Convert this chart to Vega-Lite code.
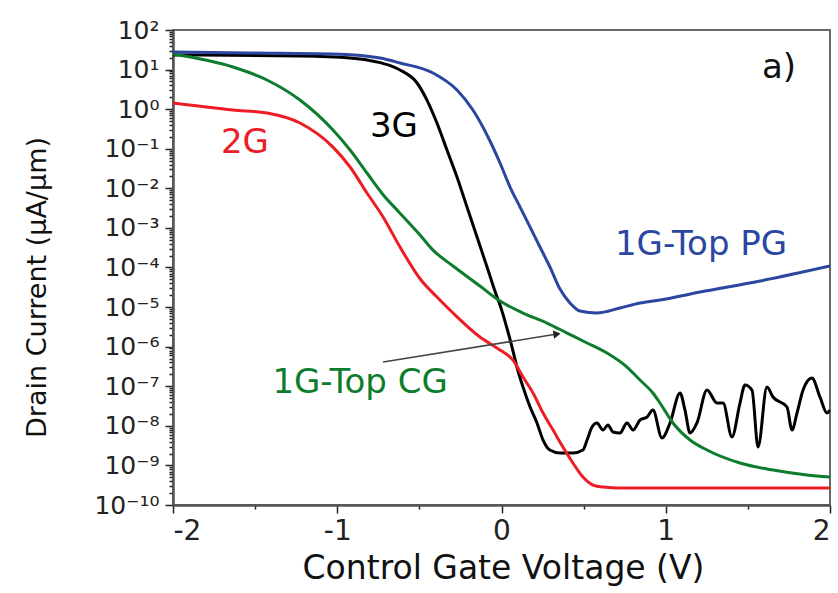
{
  "$schema": "https://vega.github.io/schema/vega-lite/v6.json",
  "autosize": "none",
  "padding": {"left": 173, "top": 30, "right": 8, "bottom": 88},
  "width": 657,
  "height": 475,
  "background": "white",
  "config": {
    "view": {"stroke": "#666", "strokeWidth": 2},
    "axis": {
      "grid": false,
      "domainColor": "#555",
      "domainWidth": 2.5,
      "tickColor": "#222",
      "labelFont": "DejaVu Sans",
      "labelColor": "#222",
      "titleFont": "DejaVu Sans",
      "titleFontWeight": "normal",
      "titleColor": "#111",
      "labelOverlap": false
    }
  },
  "datasets": {
    "curves": [
      {"s": "3G", "v": -2.0, "i": 23.4}, {"s": "3G", "v": -1.227, "i": 22.0}, {"s": "3G", "v": -0.922, "i": 19.6}, {"s": "3G", "v": -0.758, "i": 15.6}, {"s": "3G", "v": -0.685, "i": 12.9}, {"s": "3G", "v": -0.618, "i": 9.75}, {"s": "3G", "v": -0.514, "i": 4.58}, {"s": "3G", "v": -0.454, "i": 1.7}, {"s": "3G", "v": -0.393, "i": 0.447}, {"s": "3G", "v": -0.332, "i": 9.29e-2}, {"s": "3G", "v": -0.271, "i": 1.93e-2}, {"s": "3G", "v": -0.21, "i": 3.37e-3}, {"s": "3G", "v": -0.149, "i": 5.89e-4}, {"s": "3G", "v": -0.088, "i": 1.03e-4}, {"s": "3G", "v": -0.027, "i": 1.79e-5}, {"s": "3G", "v": -0.009, "i": 1.13e-5}, {"s": "3G", "v": 0.033, "i": 2.96e-6}, {"s": "3G", "v": 0.064, "i": 9.79e-7}, {"s": "3G", "v": 0.094, "i": 3.05e-7}, {"s": "3G", "v": 0.131, "i": 9.55e-8}, {"s": "3G", "v": 0.174, "i": 2.99e-8}, {"s": "3G", "v": 0.216, "i": 1.18e-8}, {"s": "3G", "v": 0.253, "i": 4.38e-9}, {"s": "3G", "v": 0.295, "i": 2.45e-9}, {"s": "3G", "v": 0.356, "i": 2.06e-9}, {"s": "3G", "v": 0.435, "i": 2.06e-9}, {"s": "3G", "v": 0.496, "i": 2.45e-9}, {"s": "3G", "v": 0.521, "i": 4.38e-9}, {"s": "3G", "v": 0.551, "i": 9.33e-9}, {"s": "3G", "v": 0.581, "i": 1.18e-8}, {"s": "3G", "v": 0.618, "i": 7.83e-9}, {"s": "3G", "v": 0.648, "i": 1.05e-8}, {"s": "3G", "v": 0.679, "i": 6.97e-9}, {"s": "3G", "v": 0.721, "i": 6.58e-9}, {"s": "3G", "v": 0.764, "i": 1.18e-8}, {"s": "3G", "v": 0.801, "i": 7.83e-9}, {"s": "3G", "v": 0.843, "i": 1.4e-8}, {"s": "3G", "v": 0.886, "i": 1.67e-8}, {"s": "3G", "v": 0.922, "i": 2.51e-8}, {"s": "3G", "v": 0.977, "i": 4.92e-9}, {"s": "3G", "v": 1.026, "i": 1.18e-8}, {"s": "3G", "v": 1.087, "i": 6.75e-8}, {"s": "3G", "v": 1.117, "i": 2.51e-8}, {"s": "3G", "v": 1.148, "i": 6.58e-9}, {"s": "3G", "v": 1.19, "i": 1.18e-8}, {"s": "3G", "v": 1.251, "i": 8.02e-8}, {"s": "3G", "v": 1.312, "i": 3.77e-8}, {"s": "3G", "v": 1.349, "i": 3.77e-8}, {"s": "3G", "v": 1.403, "i": 5.21e-9}, {"s": "3G", "v": 1.452, "i": 3.77e-8}, {"s": "3G", "v": 1.482, "i": 1.07e-7}, {"s": "3G", "v": 1.525, "i": 8.02e-8}, {"s": "3G", "v": 1.562, "i": 2.91e-9}, {"s": "3G", "v": 1.616, "i": 9.55e-8}, {"s": "3G", "v": 1.653, "i": 5.35e-8}, {"s": "3G", "v": 1.738, "i": 2.99e-8}, {"s": "3G", "v": 1.769, "i": 7.83e-9}, {"s": "3G", "v": 1.799, "i": 2.1e-8}, {"s": "3G", "v": 1.836, "i": 8.02e-8}, {"s": "3G", "v": 1.89, "i": 1.61e-7}, {"s": "3G", "v": 1.939, "i": 5.35e-8}, {"s": "3G", "v": 1.982, "i": 2.1e-8}, {"s": "3G", "v": 2.0, "i": 2.51e-8},

      {"s": "1G-Top CG", "v": -2.0, "i": 24.8}, {"s": "1G-Top CG", "v": -1.635, "i": 11.6}, {"s": "1G-Top CG", "v": -1.428, "i": 5.46}, {"s": "1G-Top CG", "v": -1.227, "i": 1.7}, {"s": "1G-Top CG", "v": -1.026, "i": 0.297}, {"s": "1G-Top CG", "v": -0.922, "i": 9.29e-2}, {"s": "1G-Top CG", "v": -0.819, "i": 2.44e-2}, {"s": "1G-Top CG", "v": -0.721, "i": 6.9e-3}, {"s": "1G-Top CG", "v": -0.618, "i": 2.36e-3}, {"s": "1G-Top CG", "v": -0.496, "i": 6.61e-4}, {"s": "1G-Top CG", "v": -0.417, "i": 2.75e-4}, {"s": "1G-Top CG", "v": -0.295, "i": 1.09e-4}, {"s": "1G-Top CG", "v": -0.131, "i": 3.4e-5}, {"s": "1G-Top CG", "v": -0.009, "i": 1.42e-5}, {"s": "1G-Top CG", "v": 0.131, "i": 7.08e-6}, {"s": "1G-Top CG", "v": 0.277, "i": 3.95e-6}, {"s": "1G-Top CG", "v": 0.399, "i": 2.21e-6}, {"s": "1G-Top CG", "v": 0.521, "i": 1.24e-6}, {"s": "1G-Top CG", "v": 0.642, "i": 6.9e-7}, {"s": "1G-Top CG", "v": 0.764, "i": 3.05e-7}, {"s": "1G-Top CG", "v": 0.843, "i": 1.44e-7}, {"s": "1G-Top CG", "v": 0.922, "i": 6.75e-8}, {"s": "1G-Top CG", "v": 0.965, "i": 3.77e-8}, {"s": "1G-Top CG", "v": 1.044, "i": 1.18e-8}, {"s": "1G-Top CG", "v": 1.148, "i": 4.38e-9}, {"s": "1G-Top CG", "v": 1.251, "i": 2.45e-9}, {"s": "1G-Top CG", "v": 1.452, "i": 1.15e-9}, {"s": "1G-Top CG", "v": 1.653, "i": 7.64e-10}, {"s": "1G-Top CG", "v": 1.86, "i": 5.71e-10}, {"s": "1G-Top CG", "v": 2.0, "i": 5.08e-10},

      {"s": "2G", "v": -2.0, "i": 1.43}, {"s": "2G", "v": -1.635, "i": 0.953}, {"s": "2G", "v": -1.428, "i": 0.8}, {"s": "2G", "v": -1.227, "i": 0.447}, {"s": "2G", "v": -1.026, "i": 0.11}, {"s": "2G", "v": -0.922, "i": 3.46e-2}, {"s": "2G", "v": -0.819, "i": 7.62e-3}, {"s": "2G", "v": -0.721, "i": 1.89e-3}, {"s": "2G", "v": -0.618, "i": 3.29e-4}, {"s": "2G", "v": -0.496, "i": 5.2e-5}, {"s": "2G", "v": -0.393, "i": 1.79e-5}, {"s": "2G", "v": -0.295, "i": 7.08e-6}, {"s": "2G", "v": -0.131, "i": 1.75e-6}, {"s": "2G", "v": -0.009, "i": 8.22e-7}, {"s": "2G", "v": 0.07, "i": 4.59e-7}, {"s": "2G", "v": 0.131, "i": 1.71e-7}, {"s": "2G", "v": 0.192, "i": 6.75e-8}, {"s": "2G", "v": 0.253, "i": 2.1e-8}, {"s": "2G", "v": 0.314, "i": 7.83e-9}, {"s": "2G", "v": 0.374, "i": 2.91e-9}, {"s": "2G", "v": 0.435, "i": 1.15e-9}, {"s": "2G", "v": 0.496, "i": 5.08e-10}, {"s": "2G", "v": 0.557, "i": 3.19e-10}, {"s": "2G", "v": 0.618, "i": 2.84e-10}, {"s": "2G", "v": 0.721, "i": 2.69e-10}, {"s": "2G", "v": 2.0, "i": 2.69e-10},

      {"s": "1G-Top PG", "v": -2.0, "i": 27.8}, {"s": "1G-Top PG", "v": -1.531, "i": 26.2}, {"s": "1G-Top PG", "v": -1.026, "i": 24.8}, {"s": "1G-Top PG", "v": -0.74, "i": 19.6}, {"s": "1G-Top PG", "v": -0.618, "i": 14.7}, {"s": "1G-Top PG", "v": -0.417, "i": 8.2}, {"s": "1G-Top PG", "v": -0.271, "i": 3.05}, {"s": "1G-Top PG", "v": -0.174, "i": 0.953}, {"s": "1G-Top PG", "v": -0.07, "i": 0.157}, {"s": "1G-Top PG", "v": -0.009, "i": 4.36e-2}, {"s": "1G-Top PG", "v": 0.052, "i": 1.08e-2}, {"s": "1G-Top PG", "v": 0.113, "i": 3.36e-3}, {"s": "1G-Top PG", "v": 0.174, "i": 1.05e-3}, {"s": "1G-Top PG", "v": 0.234, "i": 3.29e-4}, {"s": "1G-Top PG", "v": 0.295, "i": 1.03e-4}, {"s": "1G-Top PG", "v": 0.356, "i": 2.86e-5}, {"s": "1G-Top PG", "v": 0.417, "i": 1.27e-5}, {"s": "1G-Top PG", "v": 0.478, "i": 7.94e-6}, {"s": "1G-Top PG", "v": 0.581, "i": 7.08e-6}, {"s": "1G-Top PG", "v": 0.721, "i": 9.46e-6}, {"s": "1G-Top PG", "v": 0.843, "i": 1.27e-5}, {"s": "1G-Top PG", "v": 0.965, "i": 1.51e-5}, {"s": "1G-Top PG", "v": 1.209, "i": 2.4e-5}, {"s": "1G-Top PG", "v": 1.574, "i": 4.55e-5}, {"s": "1G-Top PG", "v": 2.0, "i": 1.09e-4}
    ],
    "notes": [
      {"s": "2G", "t": "2G", "v": -1.562, "i": 0.078},
      {"s": "3G", "t": "3G", "v": -0.655, "i": 0.198},
      {"s": "1G-Top PG", "t": "1G-Top PG", "v": 1.215, "i": 2.06e-4},
      {"s": "1G-Top CG", "t": "1G-Top CG", "v": -0.861, "i": 6.7e-8},
      {"s": "a)", "t": "a)", "v": 1.69, "i": 6.3}
    ],
    "arrow": [
      {"end": "tail", "v": -0.721, "i": 4.09e-7},
      {"end": "head", "v": 0.338, "i": 2.08e-6}
    ]
  },
  "encoding": {
    "x": {
      "field": "v", "type": "quantitative",
      "scale": {"domain": [-2, 2], "nice": false, "zero": false},
      "axis": {
        "title": "Control Gate Voltage (V)",
        "titleFontSize": 33,
        "titleX": 330, "titleY": 73, "titleBaseline": "alphabetic", "titleAnchor": null,
        "values": [-2, -1.5, -1, -0.5, 0, 0.5, 1, 1.5, 2],
        "labelExpr": "abs(datum.value % 1) > 0.01 ? '' : (datum.value < 0 ? '-' : '') + toString(abs(datum.value))",
        "labelFontSize": 28,
        "labelPadding": 4,
        "tickSize": {"condition": {"test": "abs(datum.value % 1) > 0.01", "value": 4}, "value": 8},
        "tickWidth": 1.5
      }
    },
    "y": {
      "field": "i", "type": "quantitative",
      "scale": {"type": "log", "domain": [1e-10, 100], "nice": false},
      "axis": {
        "title": "Drain Current (μA/μm)",
        "titleFontSize": 27,
        "titleAngle": -90,
        "titleX": -136, "titleY": 257, "titleBaseline": "middle", "titleAlign": "center",
        "values": [1e-10, 2e-10, 3e-10, 4e-10, 5e-10, 6e-10, 7e-10, 8e-10, 9e-10,
                   1e-9, 2e-9, 3e-9, 4e-9, 5e-9, 6e-9, 7e-9, 8e-9, 9e-9,
                   1e-8, 2e-8, 3e-8, 4e-8, 5e-8, 6e-8, 7e-8, 8e-8, 9e-8,
                   1e-7, 2e-7, 3e-7, 4e-7, 5e-7, 6e-7, 7e-7, 8e-7, 9e-7,
                   1e-6, 2e-6, 3e-6, 4e-6, 5e-6, 6e-6, 7e-6, 8e-6, 9e-6,
                   1e-5, 2e-5, 3e-5, 4e-5, 5e-5, 6e-5, 7e-5, 8e-5, 9e-5,
                   1e-4, 2e-4, 3e-4, 4e-4, 5e-4, 6e-4, 7e-4, 8e-4, 9e-4,
                   1e-3, 2e-3, 3e-3, 4e-3, 5e-3, 6e-3, 7e-3, 8e-3, 9e-3,
                   1e-2, 2e-2, 3e-2, 4e-2, 5e-2, 6e-2, 7e-2, 8e-2, 9e-2,
                   0.1, 0.2, 0.3, 0.4, 0.5, 0.6, 0.7, 0.8, 0.9,
                   1, 2, 3, 4, 5, 6, 7, 8, 9,
                   10, 20, 30, 40, 50, 60, 70, 80, 90, 100],
        "labelExpr": "abs(log(datum.value)/LN10 - round(log(datum.value)/LN10)) > 0.01 ? '' : ['10⁻¹⁰','10⁻⁹','10⁻⁸','10⁻⁷','10⁻⁶','10⁻⁵','10⁻⁴','10⁻³','10⁻²','10⁻¹','10⁰','10¹','10²'][round(log(datum.value)/LN10) + 10]",
        "labelFontSize": 25,
        "labelPadding": 6,
        "labelBaseline": "middle",
        "tickSize": {"condition": {"test": "abs(log(datum.value)/LN10 - round(log(datum.value)/LN10)) > 0.01", "value": 4}, "value": 8},
        "tickWidth": 1.5
      }
    }
  },
  "layer": [
    {
      "data": {"name": "curves"},
      "transform": [{"filter": "datum.s == '3G'"}],
      "mark": {"type": "line", "strokeWidth": 3, "interpolate": "monotone", "clip": true, "color": "#000"},
      "encoding": {}
    },
    {
      "data": {"name": "curves"},
      "transform": [{"filter": "datum.s != '3G'"}],
      "mark": {"type": "line", "strokeWidth": 3, "interpolate": "monotone", "clip": true},
      "encoding": {
        "color": {
          "field": "s", "type": "nominal", "legend": null,
          "scale": {"domain": ["3G", "2G", "1G-Top CG", "1G-Top PG", "a)"], "range": ["#000000", "#ee1c25", "#0d7d2d", "#2b46a0", "#111111"]}
        }
      }
    },
    {
      "data": {"name": "arrow"},
      "mark": {"type": "line", "strokeWidth": 1.5, "color": "#444"},
      "encoding": {}
    },
    {
      "data": {"name": "arrow"},
      "transform": [{"filter": "datum.end == 'head'"}],
      "mark": {"type": "point", "shape": "triangle-right", "filled": true, "size": 70, "angle": 351, "color": "#222", "opacity": 1},
      "encoding": {}
    },
    {
      "data": {"name": "notes"},
      "mark": {"type": "text", "font": "DejaVu Sans", "fontSize": 34, "align": "center", "baseline": "alphabetic"},
      "encoding": {
        "text": {"field": "t"},
        "color": {
          "field": "s", "type": "nominal", "legend": null,
          "scale": {"domain": ["3G", "2G", "1G-Top CG", "1G-Top PG", "a)"], "range": ["#000000", "#ee1c25", "#0d7d2d", "#2b46a0", "#111111"]}
        }
      }
    }
  ]
}
